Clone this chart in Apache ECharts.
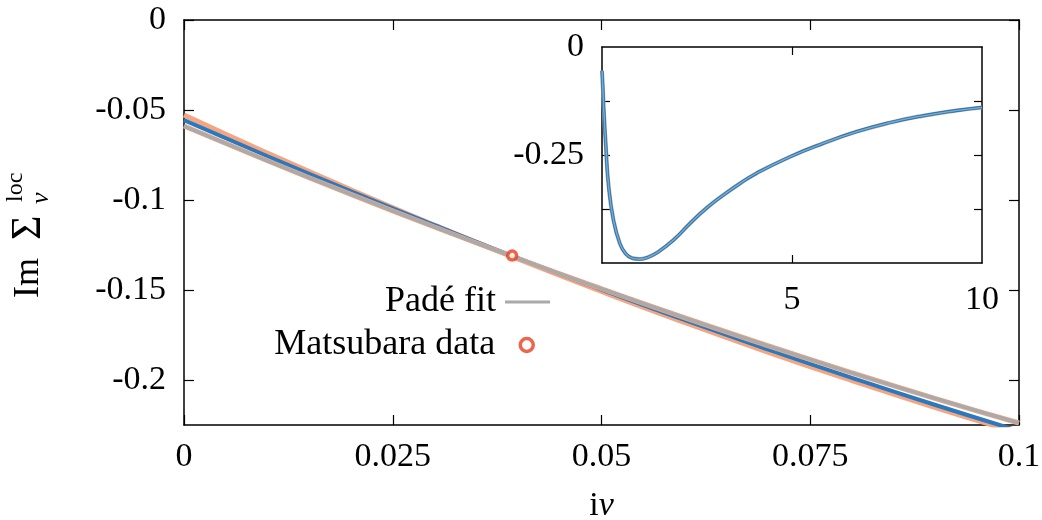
<!DOCTYPE html>
<html>
<head>
<meta charset="utf-8">
<title>Im Sigma loc</title>
<script src="https://cdn.jsdelivr.net/npm/echarts@6/dist/echarts.min.js"></script>
<style>
  html, body { margin: 0; padding: 0; background: #fff; }
  #main { width: 1042px; height: 520px; }
</style>
</head>
<body>
<div id="main"></div>
<script>
// main panel: small frequencies
const mainNu = [0, 0.01, 0.02, 0.03, 0.04, 0.05, 0.06, 0.07, 0.08, 0.09, 0.1]
const padeFit = [-0.0589, -0.0782, -0.0969, -0.1150, -0.1325, -0.1493, -0.1655, -0.1810, -0.1960, -0.2103, -0.2239]
const orangeCurve = [-0.0528, -0.0740, -0.0944, -0.1140, -0.1328, -0.1508, -0.1681, -0.1846, -0.2003, -0.2153, -0.2294]
const blueCurve = [-0.0556, -0.0757, -0.0952, -0.1140, -0.1323, -0.1498, -0.1668, -0.1831, -0.1988, -0.2139, -0.2283]
const matsubaraNu = [0.0393]
const matsubaraIm = [-0.1309]
const mainYTicks = [-0.2, -0.15, -0.1, -0.05, 0]

// inset: wider range
const insetNu = [0, 0.02, 0.05, 0.1, 0.17, 0.3, 0.47, 0.62, 0.8, 1.0, 1.2, 1.45, 1.88, 2.32, 2.75, 3.19, 3.63, 4.07, 4.95, 5.82, 6.70, 7.58, 8.46, 9.33, 10]
const insetIm = [-0.055, -0.09, -0.15, -0.227, -0.318, -0.400, -0.455, -0.478, -0.489, -0.491, -0.487, -0.476, -0.447, -0.408, -0.373, -0.343, -0.316, -0.292, -0.254, -0.223, -0.196, -0.175, -0.159, -0.147, -0.140]
const insetXLabels = [5, 10]
const insetXTicks = [5]
const insetYLabels = [-0.25, 0]
const insetYTicks = [-0.375, -0.25, -0.125]

const FONT = 'Liberation Serif'
const pair = (xs, ys) => xs.map((x, i) => [x, ys[i]])

function frameAxis (extra) {
  return Object.assign({
    type: 'value',
    axisLine: { show: true, onZero: false, lineStyle: { color: '#000', width: 1.5 } },
    axisTick: { show: true, inside: true, length: 10, lineStyle: { color: '#000', width: 1.2 } },
    splitLine: { show: false },
    axisLabel: { show: false }
  }, extra)
}

const labelStyle = { show: true, color: '#000', fontFamily: FONT, fontSize: 34 }

function initChart () {
  const chart = echarts.init(document.getElementById('main'), null, { renderer: 'canvas' })
  const option = {
    animation: false,
    backgroundColor: '#fff',
    grid: [
      { left: 184, top: 20, width: 835, height: 405, show: false, outerBoundsMode: 'none', containLabel: false },
      { left: 602, top: 47, width: 380, height: 216, show: true, backgroundColor: '#fff', borderWidth: 0, outerBoundsMode: 'none', containLabel: false }
    ],
    xAxis: [
      frameAxis({
        gridIndex: 0, position: 'bottom', min: 0, max: 0.1, interval: 0.025,
        axisLabel: Object.assign({}, labelStyle, { margin: 15 }),
        name: 'i{v|ν}', nameLocation: 'middle', nameGap: 64,
        nameTextStyle: {
          color: '#000', fontFamily: FONT, fontSize: 34,
          rich: { v: { fontFamily: FONT, fontSize: 34, fontStyle: 'italic', color: '#000' } }
        }
      }),
      frameAxis({ gridIndex: 0, position: 'top', min: 0, max: 0.1, interval: 0.025 }),
      frameAxis({
        gridIndex: 1, position: 'bottom', min: 0, max: 10,
        axisTick: { show: true, inside: true, length: 8, customValues: insetXTicks, lineStyle: { color: '#000', width: 1.2 } },
        axisLabel: Object.assign({}, labelStyle, { margin: 20, customValues: insetXLabels })
      }),
      frameAxis({
        gridIndex: 1, position: 'top', min: 0, max: 10,
        axisTick: { show: true, inside: true, length: 8, customValues: insetXTicks, lineStyle: { color: '#000', width: 1.2 } }
      })
    ],
    yAxis: [
      frameAxis({
        gridIndex: 0, position: 'left', min: -0.225, max: 0,
        axisTick: { show: true, inside: true, length: 10, customValues: mainYTicks, lineStyle: { color: '#000', width: 1.2 } },
        axisLabel: Object.assign({}, labelStyle, { margin: 18, customValues: mainYTicks })
      }),
      frameAxis({
        gridIndex: 0, position: 'right', min: -0.225, max: 0,
        axisTick: { show: true, inside: true, length: 10, customValues: mainYTicks, lineStyle: { color: '#000', width: 1.2 } }
      }),
      frameAxis({
        gridIndex: 1, position: 'left', min: -0.5, max: 0,
        axisTick: { show: true, inside: true, length: 8, customValues: insetYTicks, lineStyle: { color: '#000', width: 1.2 } },
        axisLabel: Object.assign({}, labelStyle, { margin: 18, customValues: insetYLabels })
      }),
      frameAxis({
        gridIndex: 1, position: 'right', min: -0.5, max: 0,
        axisTick: { show: true, inside: true, length: 8, customValues: insetYTicks, lineStyle: { color: '#000', width: 1.2 } }
      })
    ],
    legend: [
      {
        data: [{ name: 'Padé fit', icon: 'rect' }], right: 492, top: 284, align: 'right', padding: 0,
        itemWidth: 45, itemHeight: 3, itemGap: 0,
        textStyle: { color: '#000', fontFamily: FONT, fontSize: 36, padding: [0, 4, 0, 0] }
      },
      {
        data: [{ name: 'Matsubara data', icon: 'circle' }], right: 507, top: 327, align: 'right', padding: 0,
        itemWidth: 13, itemHeight: 13, itemGap: 0,
        itemStyle: { color: '#ffffff', borderColor: '#e8401c', borderWidth: 3.5 },
        textStyle: { color: '#000', fontFamily: FONT, fontSize: 36, padding: [0, 20, 0, 0] }
      }
    ],
    graphic: [
      {
        type: 'group', x: 29, y: 222, rotation: Math.PI / 2,
        children: [
          { type: 'text', x: -76, y: 0, style: { text: 'Im', font: '36px "Liberation Serif"', fill: '#000', verticalAlign: 'middle' } },
          { type: 'text', x: -18, y: 0, style: { text: 'Σ', font: '42px "Liberation Serif"', fill: '#000', verticalAlign: 'middle' } },
          { type: 'text', x: 20, y: -13, style: { text: 'loc', font: '24px "Liberation Serif"', fill: '#000', verticalAlign: 'middle' } },
          { type: 'text', x: 18, y: 12, style: { text: 'ν', font: 'italic 26px "Liberation Serif"', fill: '#000', verticalAlign: 'middle' } }
        ]
      }
    ],
    series: [
      {
        name: 'orange', type: 'line', xAxisIndex: 0, yAxisIndex: 0, smooth: true, symbol: 'none',
        data: pair(mainNu, orangeCurve), lineStyle: { color: '#f4a582', width: 5 }, z: 2
      },
      {
        name: 'blue', type: 'line', xAxisIndex: 0, yAxisIndex: 0, smooth: true, symbol: 'none',
        data: pair(mainNu, blueCurve), lineStyle: { color: '#2a78bd', width: 4 }, z: 3
      },
      {
        name: 'pade edge', type: 'line', xAxisIndex: 0, yAxisIndex: 0, smooth: true, symbol: 'none',
        data: pair(mainNu, padeFit), lineStyle: { color: '#f4a582', width: 5 }, z: 4
      },
      {
        name: 'Padé fit', type: 'line', xAxisIndex: 0, yAxisIndex: 0, smooth: true, symbol: 'none',
        data: pair(mainNu, padeFit), itemStyle: { color: '#aaaaaa' }, lineStyle: { color: '#aaaaaa', width: 3.5 }, z: 5
      },
      {
        name: 'Matsubara data', type: 'scatter', xAxisIndex: 0, yAxisIndex: 0,
        data: pair(matsubaraNu, matsubaraIm), symbol: 'circle', symbolSize: 9,
        itemStyle: { color: '#ffffff', borderColor: '#e8401c', borderWidth: 3.5 }, z: 6
      },
      {
        name: 'inset edge', type: 'line', xAxisIndex: 2, yAxisIndex: 2, smooth: 0.5, symbol: 'none',
        data: pair(insetNu, insetIm), lineStyle: { color: '#999999', width: 4 }, z: 2
      },
      {
        name: 'inset dark', type: 'line', xAxisIndex: 2, yAxisIndex: 2, smooth: 0.5, symbol: 'none',
        data: pair(insetNu, insetIm), lineStyle: { color: '#2166ac', width: 2.8 }, z: 3
      },
      {
        name: 'inset light', type: 'line', xAxisIndex: 2, yAxisIndex: 2, smooth: 0.5, symbol: 'none',
        data: pair(insetNu, insetIm), lineStyle: { color: '#6baed6', width: 1.6 }, z: 4
      }
    ]
  }
  chart.setOption(option)
}

initChart()
</script>
</body>
</html>
